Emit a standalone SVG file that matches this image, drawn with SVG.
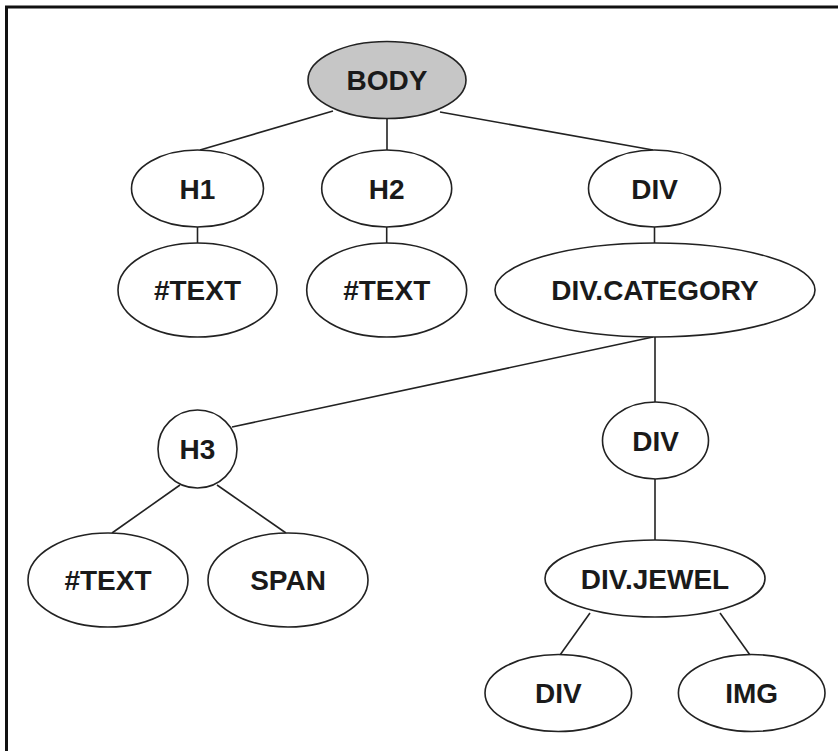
<svg xmlns="http://www.w3.org/2000/svg" width="838" height="751" viewBox="0 0 838 751">
<style>
.n ellipse{fill:#fff;stroke:#222;stroke-width:1.6}
.n text{font-family:"Liberation Sans",Arial,sans-serif;font-weight:bold;font-size:28px;fill:#1a1a1a;text-anchor:middle}
#edges line{stroke:#222;stroke-width:1.6}
</style>
<rect width="838" height="751" fill="#fff"/>
<g id="frame" stroke="#111" stroke-width="3" fill="none">
<line x1="5" y1="7" x2="838" y2="7"/>
<line x1="6.5" y1="6" x2="6.5" y2="751"/>
</g>
<g id="edges">
<line x1="333" y1="111" x2="200" y2="150"/>
<line x1="387" y1="119" x2="387" y2="150"/>
<line x1="440" y1="112" x2="653" y2="150"/>
<line x1="197.5" y1="227" x2="197.5" y2="243"/>
<line x1="386.7" y1="227" x2="386.7" y2="243"/>
<line x1="654.5" y1="227" x2="654.5" y2="243"/>
<line x1="653" y1="337" x2="232" y2="427"/>
<line x1="655" y1="337" x2="655" y2="402"/>
<line x1="180" y1="485" x2="112" y2="533"/>
<line x1="217" y1="485" x2="286" y2="533"/>
<line x1="655" y1="479" x2="655" y2="540"/>
<line x1="590" y1="613" x2="560" y2="655"/>
<line x1="720" y1="613" x2="750" y2="655"/>
</g>
<g id="body" class="n"><ellipse cx="387" cy="80" rx="79" ry="38.5" style="fill:#c6c6c6"/><text x="387" y="90">BODY</text></g>
<g id="h1" class="n"><ellipse cx="197.5" cy="188.5" rx="66" ry="38.5"/><text x="197.5" y="198.5">H1</text></g>
<g id="h2" class="n"><ellipse cx="386.7" cy="188.5" rx="65" ry="38.5"/><text x="386.7" y="198.5">H2</text></g>
<g id="div1" class="n"><ellipse cx="654.5" cy="188.5" rx="66" ry="38.5"/><text x="654.5" y="198.5">DIV</text></g>
<g id="text1" class="n"><ellipse cx="197.5" cy="290" rx="79.5" ry="47"/><text x="197.5" y="300">#TEXT</text></g>
<g id="text2" class="n"><ellipse cx="386.7" cy="290" rx="80" ry="47"/><text x="386.7" y="300">#TEXT</text></g>
<g id="divcategory" class="n"><ellipse cx="655" cy="290" rx="160" ry="47"/><text x="655" y="300">DIV.CATEGORY</text></g>
<g id="h3" class="n"><ellipse cx="197.5" cy="449" rx="39.5" ry="39"/><text x="197.5" y="459">H3</text></g>
<g id="div2" class="n"><ellipse cx="655.5" cy="440.5" rx="53" ry="38.5"/><text x="655.5" y="450.5">DIV</text></g>
<g id="text3" class="n"><ellipse cx="108" cy="580" rx="80" ry="47"/><text x="108" y="590">#TEXT</text></g>
<g id="span" class="n"><ellipse cx="288" cy="580" rx="80" ry="47"/><text x="288" y="590">SPAN</text></g>
<g id="divjewel" class="n"><ellipse cx="655" cy="578.5" rx="110" ry="38.5"/><text x="655" y="588.5">DIV.JEWEL</text></g>
<g id="div3" class="n"><ellipse cx="558.3" cy="693" rx="73.3" ry="38.5"/><text x="558.3" y="703">DIV</text></g>
<g id="img" class="n"><ellipse cx="751.7" cy="693" rx="73.3" ry="38.5"/><text x="751.7" y="703">IMG</text></g>
</svg>
